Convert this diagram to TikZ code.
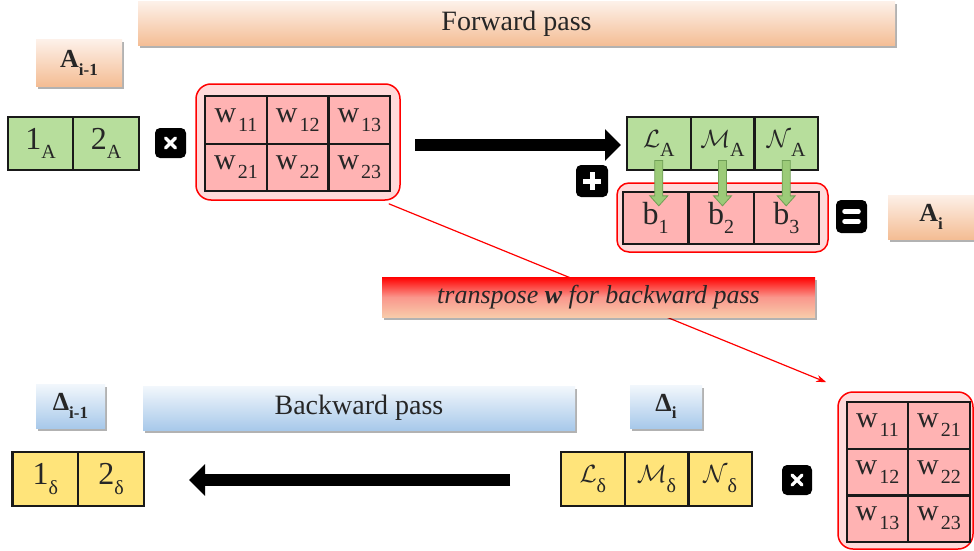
\documentclass[tikz,border=0pt]{standalone}
\usepackage{fontspec}
\setmainfont{Liberation Serif}
\usetikzlibrary{shadows,calc,arrows.meta}
\definecolor{cgreen}{HTML}{B7DE9C}
\definecolor{cpink}{HTML}{FFB3B3}
\definecolor{cpinkbg}{HTML}{FFDADA}
\definecolor{cyellow}{HTML}{FFE47A}
\definecolor{peachT}{HTML}{FDF0E8}
\definecolor{peachB}{HTML}{F4BD94}
\definecolor{blueT}{HTML}{F2F7FC}
\definecolor{blueB}{HTML}{A8C9EA}
\definecolor{garrow}{HTML}{9CCB78}
\definecolor{garrowD}{HTML}{6F9E55}
\definecolor{redT}{HTML}{FF0000}
\definecolor{redB}{HTML}{F8CBAA}
\newcommand{\sbs}[1]{\raisebox{-0.3em}{\fontsize{20}{20}\selectfont #1}}
\newcommand{\sbb}[1]{\raisebox{-0.3em}{\fontsize{17}{17}\selectfont #1}}
\begin{document}
\begin{tikzpicture}[x=1pt,y=-1pt,
  cellbase/.style={draw=black!90, line width=2.3pt, inner sep=0pt, text=black!85,
    font=\fontsize{32}{32}\selectfont},
  gcell/.style={cellbase, fill=cgreen, minimum height=53pt},
  ycell/.style={cellbase, fill=cyellow, minimum height=54pt},
  pcell/.style={cellbase, fill=cpink},
  wcell/.style={cellbase, fill=cpink, font=\fontsize{30}{30}\selectfont},
  holder/.style={draw=red, line width=1.5pt, fill=cpinkbg, rounded corners=15pt, inner sep=0pt},
  shad/.style={drop shadow={shadow xshift=2pt, shadow yshift=-2.5pt, fill=black, opacity=0.3}},
  peachlab/.style={shad, top color=peachT, bottom color=peachB, inner sep=0pt, text=black!85},
  bluelab/.style={shad, top color=blueT, bottom color=blueB, inner sep=0pt, text=black!85},
  icon/.style={fill=black, rounded corners=5pt, inner sep=0pt},
  isym/.style={draw=white, line cap=round},
  bigarrow/.style={draw=black, line width=12pt, -{Triangle[width=31pt,length=16pt]}},
  garr/.style={fill=garrow, draw=garrowD, line width=0.8pt, line join=miter},
  redline/.style={draw=red, line width=1.2pt, -{Stealth[length=10pt,width=7pt]}},
]
\clip (0,0) rectangle (974,551);
\fill[white] (0,0) rectangle (974,551);

% ---------------- Forward part ----------------
\node[peachlab, minimum width=757pt, minimum height=44pt, font=\fontsize{28}{28}\selectfont] (fwd) at (516.5,24) {Forward pass};
\node[peachlab, minimum width=86pt, minimum height=46pt, font=\fontsize{26}{26}\selectfont\bfseries] (aprev) at (79,63) {A\sbb{i-1}};

\node[gcell, minimum width=65.5pt] (g1) at (40.5,143.5) {1\sbs{A}};
\node[gcell, minimum width=65.5pt] (g2) at (106,143.5) {2\sbs{A}};

\node[icon, minimum width=31pt, minimum height=30pt] (xa) at (170.5,143) {};
\draw[isym, line width=3.2pt] ($(xa.center)+(-5,-5)$) -- ($(xa.center)+(5,5)$);
\draw[isym, line width=3.2pt] ($(xa.center)+(-5,5)$) -- ($(xa.center)+(5,-5)$);

\node[holder, minimum width=204pt, minimum height=116pt] (Wbox) at (298,142) {};
\node[wcell, minimum width=61.7pt, minimum height=47.5pt] (w11) at (236,120) {w\hspace{2pt}\sbs{11}};
\node[wcell, minimum width=61.7pt, minimum height=47.5pt] (w12) at (297.7,120) {w\hspace{2pt}\sbs{12}};
\node[wcell, minimum width=61.7pt, minimum height=47.5pt] (w13) at (359.4,120) {w\hspace{2pt}\sbs{13}};
\node[wcell, minimum width=61.7pt, minimum height=47.5pt] (w21) at (236,167.5) {w\hspace{2pt}\sbs{21}};
\node[wcell, minimum width=61.7pt, minimum height=47.5pt] (w22) at (297.7,167.5) {w\hspace{2pt}\sbs{22}};
\node[wcell, minimum width=61.7pt, minimum height=47.5pt] (w23) at (359.4,167.5) {w\hspace{2pt}\sbs{23}};

\coordinate (fa1) at (415,145);
\coordinate (fa2) at (621,145);
\draw[bigarrow] (fa1) -- (fa2);

\node[holder, rounded corners=12pt, minimum width=211pt, minimum height=69pt] (bbox) at (722.5,217.5) {};
\node[pcell, minimum width=65.3pt, minimum height=52pt] (b1) at (655.7,218) {b\sbs{1}};
\node[pcell, minimum width=65.3pt, minimum height=52pt] (b2) at (721,218) {b\sbs{2}};
\node[pcell, minimum width=65.3pt, minimum height=52pt] (b3) at (786.3,218) {b\sbs{3}};

\node[gcell, minimum width=63.7pt] (la) at (658.8,143.5) {$\mathcal{L}$\sbs{A}};
\node[gcell, minimum width=63.7pt] (ma) at (722.5,143.5) {$\mathcal{M}$\sbs{A}};
\node[gcell, minimum width=63.7pt] (na) at (786.2,143.5) {$\mathcal{N}$\sbs{A}};

\foreach \s/\t in {la/b1, ma/b2, na/b3}{
  \draw[garr] let \p1=(\s.center), \p2=(\t.north) in
    (\x1-4pt,\y1-17pt) -- (\x1+4pt,\y1-17pt) -- (\x1+4pt,\y2-5pt) -- (\x1+9pt,\y2-5pt)
    -- (\x1,\y2-15pt) -- (\x1-9pt,\y2-5pt) -- (\x1-4pt,\y2-5pt) -- cycle;
}

\node[icon, minimum width=32pt, minimum height=32pt] (plus) at (592,181) {};
\draw[isym, line width=5pt, line cap=butt] ($(plus.center)+(-9,0)$) -- ($(plus.center)+(9,0)$);
\draw[isym, line width=5pt, line cap=butt] ($(plus.center)+(0,-9)$) -- ($(plus.center)+(0,9)$);

\node[icon, minimum width=31pt, minimum height=33pt] (eq) at (851.5,216.5) {};
\draw[isym, line width=4.5pt] ($(eq.center)+(-7,-5)$) -- ($(eq.center)+(7,-5)$);
\draw[isym, line width=4.5pt] ($(eq.center)+(-7,5)$) -- ($(eq.center)+(7,5)$);

\node[peachlab, minimum width=92pt, minimum height=44pt, font=\fontsize{26}{26}\selectfont\bfseries] (ai) at (934,217) {\hspace*{-6pt}A\sbb{i}};

% ---------------- transpose link ----------------
\node[holder, rounded corners=15pt, minimum width=135pt, minimum height=157pt] (WTbox) at (905.5,470.5) {};
\draw[redline] ($(Wbox.south east)+(-12,3)$) -- ($(WTbox.north west)+(-11,-9)$);
\node[shad, top color=redT, bottom color=redB, middle color={rgb,255:red,250;green,150;blue,140}, inner sep=0pt,
  minimum width=433pt, minimum height=40pt, text=black!85, font=\fontsize{26}{26}\selectfont\itshape] (tr) at (598.5,297)
  {transpose \textbf{w} for backward pass};

% ---------------- Backward part ----------------
\node[bluelab, minimum width=432pt, minimum height=44pt, font=\fontsize{28}{28}\selectfont] (bwd) at (359,408) {Backward pass};
\node[bluelab, minimum width=69pt, minimum height=44pt, font=\fontsize{26}{26}\selectfont\bfseries] (dprev) at (70.5,406) {Δ\sbb{i-1}};
\node[bluelab, minimum width=72pt, minimum height=43pt, font=\fontsize{26}{26}\selectfont\bfseries] (di) at (666,406.5) {Δ\sbb{i}};

\node[ycell, minimum width=65.5pt] (y1) at (45.25,479) {1\sbs{δ}};
\node[ycell, minimum width=66pt] (y2) at (111,479) {2\sbs{δ}};

\node[ycell, minimum width=63.7pt] (ld) at (592.8,479) {$\mathcal{L}$\sbs{δ}};
\node[ycell, minimum width=63.7pt] (md) at (656.5,479) {$\mathcal{M}$\sbs{δ}};
\node[ycell, minimum width=63.7pt] (nd) at (720.2,479) {$\mathcal{N}$\sbs{δ}};

\coordinate (ba1) at (510,480);
\coordinate (ba2) at (189,480);
\draw[bigarrow] (ba1) -- (ba2);

\node[icon, minimum width=30pt, minimum height=30pt] (xb) at (797,480) {};
\draw[isym, line width=3.2pt] ($(xb.center)+(-5,-5)$) -- ($(xb.center)+(5,5)$);
\draw[isym, line width=3.2pt] ($(xb.center)+(-5,5)$) -- ($(xb.center)+(5,-5)$);

\node[wcell, minimum width=61.5pt, minimum height=46.7pt] (t11) at (877.5,425.3) {w\hspace{2pt}\sbs{11}};
\node[wcell, minimum width=61.5pt, minimum height=46.7pt] (t21) at (939,425.3) {w\hspace{2pt}\sbs{21}};
\node[wcell, minimum width=61.5pt, minimum height=46.7pt] (t12) at (877.5,472) {w\hspace{2pt}\sbs{12}};
\node[wcell, minimum width=61.5pt, minimum height=46.7pt] (t22) at (939,472) {w\hspace{2pt}\sbs{22}};
\node[wcell, minimum width=61.5pt, minimum height=46.7pt] (t13) at (877.5,518.7) {w\hspace{2pt}\sbs{13}};
\node[wcell, minimum width=61.5pt, minimum height=46.7pt] (t23) at (939,518.7) {w\hspace{2pt}\sbs{23}};
\end{tikzpicture}
\end{document}
